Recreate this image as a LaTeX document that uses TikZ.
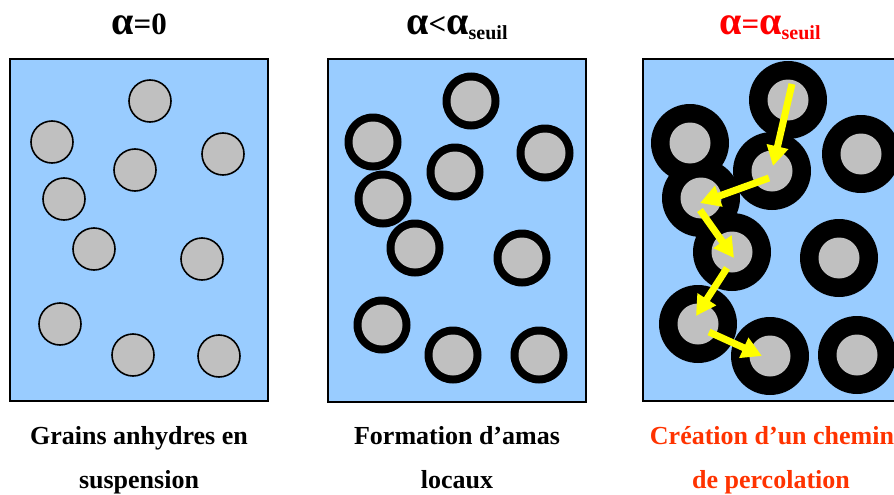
\documentclass[tikz,border=0pt]{standalone}
\usepackage{fontspec}
\usepackage{graphicx}
\setmainfont{Liberation Serif}
\usetikzlibrary{arrows.meta}
\definecolor{liquid}{HTML}{99CCFF}
\definecolor{grain}{HTML}{C0C0C0}
\definecolor{titlered}{HTML}{FF0000}
\definecolor{caporange}{HTML}{FF3300}
\definecolor{pathyellow}{HTML}{FFFF00}
\newcommand{\alf}{{\fontsize{40}{40}\selectfont α}}
\newcommand{\seuilsub}{\raisebox{-5pt}{\fontsize{20}{20}\selectfont seuil}}
\begin{document}
\begin{tikzpicture}[x=1pt,y=-1pt,
  panel/.style={draw=black, fill=liquid, line width=2pt, minimum width=258pt, minimum height=342pt, inner sep=0pt},
  bare/.style={circle, draw=black, line width=1.6pt, fill=grain, minimum size=42pt, inner sep=0pt},
  thinring/.style={circle, fill=black, minimum size=57pt, inner sep=0pt},
  thickring/.style={circle, fill=black, minimum size=78pt, inner sep=0pt},
  core/.style={circle, fill=grain, minimum size=41pt, inner sep=0pt},
  titletext/.style={font=\bfseries\fontsize{31}{36}\selectfont, anchor=base, inner sep=0pt},
  captext/.style={font=\bfseries\fontsize{26}{30}\selectfont, anchor=base, inner sep=0pt},
  path arrow/.style={draw=pathyellow, line width=7pt, -{Triangle[width=21pt,length=20pt]}}
]
\useasboundingbox (0,0) rectangle (894,495);
\clip (0,0) rectangle (894,495);

% panels
\node[panel] (p1) at (139,230) {};
\node[panel] (p2) at (456.5,230.5) {};
\node[panel] (p3) at (772,230) {};

% panel 1: bare grains
\foreach \x/\y [count=\i] in {150/101,52/142,135/170,223/154,64/199,94/249,202/259,60/324,133/355,219/356}
  \node[bare] (ga\i) at (\x,\y) {};

% panel 2: thin hydrate layer
\foreach \x/\y [count=\i] in {471/101,373/142,455/172,545/153,383/199,415/248,522/258,382/325,453/355,539/355}
  \node[thinring] (rb\i) at (\x,\y) {};
\foreach \x/\y [count=\i] in {471/101,373/142,455/172,545/153,383/199,415/248,522/258,382/325,453/355,539/355}
  \node[core] (gb\i) at (\x,\y) {};

% panel 3: thick hydrate layer
\foreach \x/\y [count=\i] in {788/100,690/143,772/171,861/154,701/198,732/252,839/258,698/324,770/356,857/355}
  \node[thickring] (rc\i) at (\x,\y) {};
\foreach \x/\y [count=\i] in {788/100,690/143,772/171,861/154,701/198,732/252,839/258,698/324,770/356,857/355}
  \node[core] (gc\i) at (\x,\y) {};

% percolation path
\coordinate (a1s) at (792,84);  \coordinate (a1e) at (773,166);
\coordinate (a2s) at (769,178); \coordinate (a2e) at (700,203);
\coordinate (a3s) at (700,210); \coordinate (a3e) at (734,258);
\coordinate (a4s) at (727,268); \coordinate (a4e) at (696,316);
\coordinate (a5s) at (709,332); \coordinate (a5e) at (762,356);
\draw[path arrow] (a1s) -- (a1e);
\draw[path arrow] (a2s) -- (a2e);
\draw[path arrow] (a3s) -- (a3e);
\draw[path arrow] (a4s) -- (a4e);
\draw[path arrow] (a5s) -- (a5e);

% titles
\node[titletext] (t1) at (139,35) {\alf=0};
\node[titletext] (t2) at (457,35) {\alf<\alf\seuilsub};
\node[titletext, text=titlered] (t3) at (770,35) {\alf=\alf\seuilsub};

% captions
\node[captext] (c1a) at (139,444) {Grains anhydres en};
\node[captext] (c1b) at (139,488) {suspension};
\node[captext] (c2a) at (457,444) {Formation d’amas};
\node[captext] (c2b) at (457,488) {locaux};
\node[captext, text=caporange] (c3a) at (772,444) {Création d’un chemin};
\node[captext, text=caporange] (c3b) at (771,488) {de percolation};
\end{tikzpicture}
\end{document}
